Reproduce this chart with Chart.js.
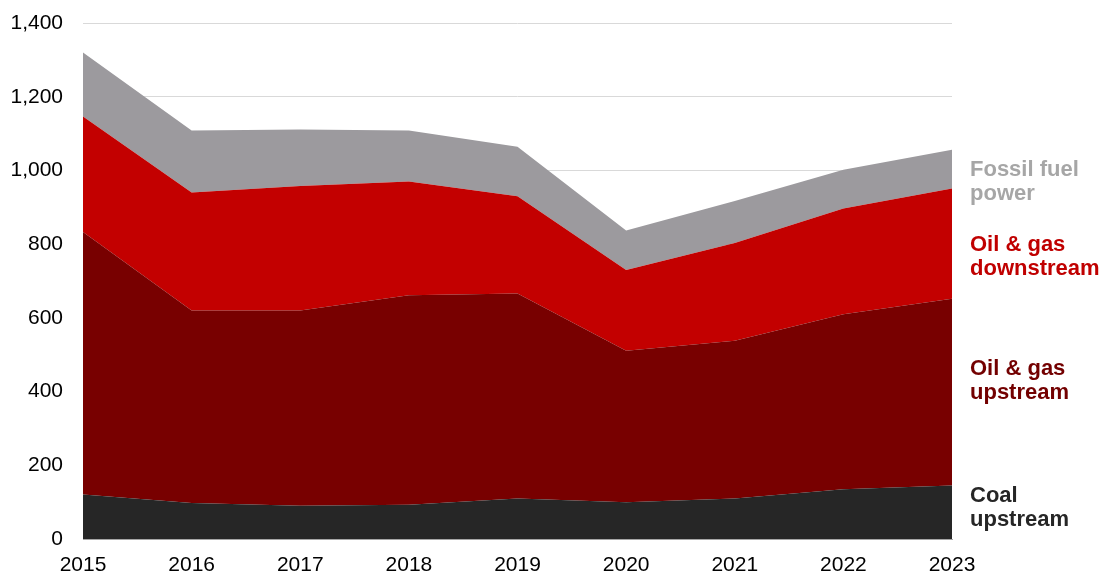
<!DOCTYPE html>
<html>
<head>
<meta charset="utf-8">
<script src="https://cdn.jsdelivr.net/npm/chart.js@4"></script>
<style>
  html, body { margin: 0; padding: 0; background: #ffffff; }
  #wrap { width: 1108px; height: 575px; position: relative; }
</style>
</head>
<body>
<div id="wrap"><canvas id="c" width="1108" height="575"></canvas></div>
<script>
// ---- data ----
const years = ["2015", "2016", "2017", "2018", "2019", "2020", "2021", "2022", "2023"];
const coalUpstream      = [121,  98,  90,  93, 110, 100, 110, 135, 145];
const oilGasUpstream    = [712, 522, 530, 568, 556, 411, 428, 475, 507];
const oilGasDownstream  = [313, 320, 338, 309, 264, 219, 265, 287, 299];
const fossilFuelPower   = [174, 168, 153, 138, 134, 107, 114, 105, 105];
const seriesLabels = [
  ["Fossil fuel", "power"],
  ["Oil & gas", "downstream"],
  ["Oil & gas", "upstream"],
  ["Coal", "upstream"]
];
const yMin = 0, yMax = 1400, yStep = 200;

// ---- styles ----
const FONT = '"Liberation Sans", Arial, Helvetica, sans-serif';
const colors = {
  coal: '#262626',
  up: '#780000',
  down: '#c30000',
  power: '#9c9a9e'
};
const labelColors = ['#a6a6a6', '#c00000', '#730000', '#262626'];
const labelBaselines = [[176, 200], [251, 275], [375, 399], [502, 526]];

const sideLabels = {
  id: 'sideLabels',
  afterDraw(chart) {
    const ctx = chart.ctx;
    ctx.save();
    ctx.font = 'bold 22px ' + FONT;
    ctx.textAlign = 'left';
    ctx.textBaseline = 'alphabetic';
    seriesLabels.forEach((lines, i) => {
      ctx.fillStyle = labelColors[i];
      lines.forEach((t, j) => ctx.fillText(t, 970, labelBaselines[i][j]));
    });
    ctx.restore();
  }
};

function ds(label, data, color, fill) {
  return {
    label, data,
    backgroundColor: color,
    borderColor: color,
    borderWidth: 0,
    pointRadius: 0,
    tension: 0,
    fill
  };
}

new Chart(document.getElementById('c'), {
  type: 'line',
  data: {
    labels: years,
    datasets: [
      ds('Coal upstream', coalUpstream, colors.coal, 'origin'),
      ds('Oil & gas upstream', oilGasUpstream, colors.up, '-1'),
      ds('Oil & gas downstream', oilGasDownstream, colors.down, '-1'),
      ds('Fossil fuel power', fossilFuelPower, colors.power, '-1')
    ]
  },
  options: {
    responsive: false,
    animation: false,
    devicePixelRatio: 1,
    layout: { padding: { top: 23, right: 156, bottom: 0, left: 0 } },
    plugins: { legend: { display: false }, tooltip: { enabled: false } },
    scales: {
      x: {
        offset: false,
        grid: { display: false, drawTicks: false },
        border: { display: true, color: '#a6a6a6', width: 1 },
        ticks: {
          color: '#000000',
          font: { family: FONT, size: 21, lineHeight: 1.2 },
          padding: 14,
          maxRotation: 0,
          autoSkip: false
        },
        afterFit(scale) { scale.height = 36; }
      },
      y: {
        stacked: true,
        min: yMin, max: yMax,
        grid: { color: '#d9d9d9', lineWidth: 1, drawTicks: false },
        border: { display: false },
        ticks: {
          stepSize: yStep,
          color: '#000000',
          font: { family: FONT, size: 21, lineHeight: 1.2 },
          padding: 20,
          callback: v => v.toLocaleString('en-US')
        },
        afterFit(scale) {
          scale.width = 83;
          scale.paddingTop = 0;
          scale.paddingBottom = 0;
        }
      }
    }
  },
  plugins: [sideLabels]
});
</script>
</body>
</html>
